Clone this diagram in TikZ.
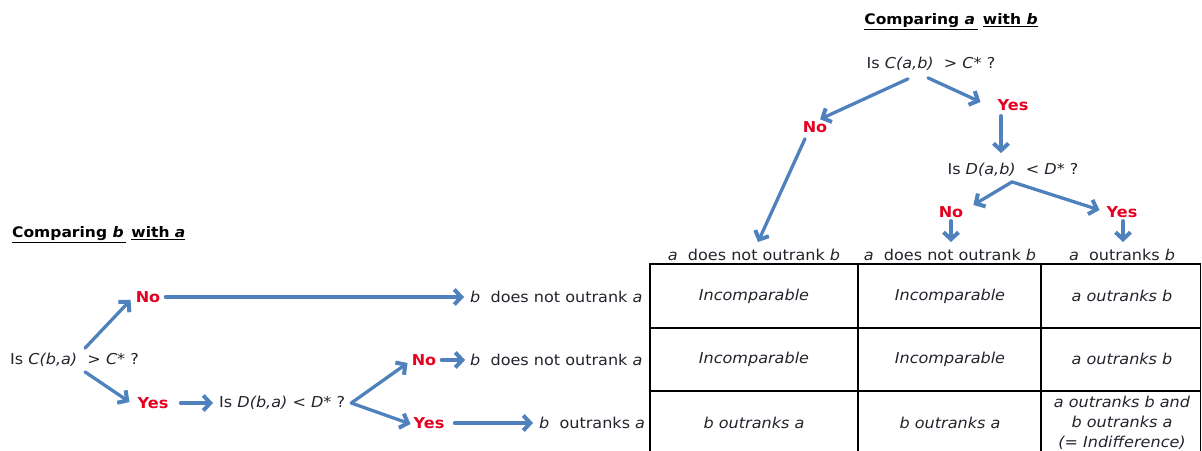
\documentclass[tikz,border=0pt]{standalone}
\usepackage{fontspec}
\setmainfont{DejaVu Sans}[FakeStretch=1.07]
\usetikzlibrary{arrows.meta}
\definecolor{arrowblue}{RGB}{79,129,189}
\definecolor{answerred}{RGB}{228,0,32}
\definecolor{textgray}{RGB}{35,35,45}

\begin{document}
\begin{tikzpicture}[x=1pt,y=-1pt,
  txt/.style={font=\fontsize{15}{20}\selectfont, inner sep=1pt, text=textgray},
  ttl/.style={font=\fontsize{14.5}{20}\selectfont\bfseries, inner sep=1pt, text=black},
  ans/.style={font=\fontsize{15}{20}\selectfont\bfseries, inner sep=1pt, text=answerred},
  cell/.style={font=\fontsize{15}{20}\selectfont\itshape, inner sep=1pt, text=textgray, align=center},
  arr/.style={draw=arrowblue, line width=3.3pt, line cap=round,
    -{Straight Barb[length=7pt,width=15pt,line width=4pt]}},
  grid/.style={draw=black, line width=1.4pt}]
\useasboundingbox (0,0) rectangle (1202,450);
\clip (0,0) rectangle (1202,450);

% ---- comparing a with b (top tree) ----
\node[ttl] (t1) at (951,22) {\underline{Comparing \textit{a}\,}\ \underline{with \textit{b}}};
\node[txt] (q1) at (931,64) {Is \textit{C(a,b)}\ \ > \textit{C*} ?};
\node[ans] (no1) at (815,127) {No};
\node[ans] (yes1) at (1013,105) {Yes};
\node[txt] (q2) at (1013,170) {Is \textit{D(a,b)}\ \ < \textit{D*} ?};
\node[ans] (no2) at (951,212) {No};
\node[ans] (yes2) at (1122,212) {Yes};
\node[txt] (h1) at (754,255) {\textit{a}\ \ does not outrank \textit{b}};
\node[txt] (h2) at (950,255) {\textit{a}\ \ does not outrank \textit{b}};
\node[txt] (h3) at (1122,255) {\textit{a}\ \ outranks \textit{b}};

\coordinate (j1) at ([shift={(-1,4)}]q2.south);

\draw[arr] ([shift={(-23,7)}]q1.south) -- ([shift={(5,-1)}]no1.north);
\draw[arr] ([shift={(-3,6)}]q1.south) -- ([shift={(-16,-3)}]yes1.west);
\draw[arr] ([shift={(-12,4)}]yes1.south) -- ([shift={(-12,-9)}]q2.north);
\draw[arr] (j1) -- ([shift={(9,-7)}]no2.east);
\draw[arr] (j1) -- ([shift={(-6,-2)}]yes2.west);
\draw[arr] ([shift={(0,2)}]no2.south) -- ([shift={(1,-6)}]h2.north);
\draw[arr] ([shift={(1,2)}]yes2.south) -- ([shift={(1,-6)}]h3.north);
\draw[arr] ([shift={(-10,5)}]no1.south) -- ([shift={(4,-6)}]h1.north);

% ---- comparing b with a (left tree) ----
\node[ttl, anchor=west] (t2) at (11,235) {\underline{Comparing \textit{b}\,}\ \underline{with \textit{a}}};
\node[txt, anchor=west] (q3) at (9,360) {Is \textit{C(b,a)}\ \ > \textit{C*} ?};
\node[ans] (no3) at (148,297) {No};
\node[ans] (yes3) at (153,403) {Yes};
\node[txt, anchor=west] (q4) at (218,403) {Is \textit{D(b,a)} < \textit{D*} ?};
\node[ans] (no4) at (424,360) {No};
\node[ans] (yes4) at (429,423) {Yes};
\node[txt, anchor=west] (r1) at (469,297) {\textit{b}\ \ does not outrank \textit{a}};
\node[txt, anchor=west] (r2) at (469,360) {\textit{b}\ \ does not outrank \textit{a}};
\node[txt, anchor=west] (r3) at (538,423) {\textit{b}\ \ outranks \textit{a}};

\coordinate (j2) at ([shift={(5,0)}]q4.east);

\draw[arr] ([shift={(76,-4)}]q3.north west) -- ([shift={(-4,3)}]no3.west);
\draw[arr] ([shift={(76,4)}]q3.south west) -- ([shift={(-7,-1)}]yes3.west);
\draw[arr] ([shift={(11,0)}]yes3.east) -- ([shift={(-5,0)}]q4.west);
\draw[arr] (j2) -- ([shift={(-3,3)}]no4.west);
\draw[arr] (j2) -- ([shift={(-2,1)}]yes4.west);
\draw[arr] ([shift={(4,0)}]no3.east) -- ([shift={(-5,0)}]r1.west);
\draw[arr] ([shift={(4,0)}]no4.east) -- ([shift={(-4,0)}]r2.west);
\draw[arr] ([shift={(9,0)}]yes4.east) -- ([shift={(-5,0)}]r3.west);

% ---- result table ----
\draw[grid] (650,264) -- (1201,264);
\draw[grid] (650,328) -- (1201,328);
\draw[grid] (650,391) -- (1201,391);
\foreach \xx in {650,858,1041,1200.5}
  \draw[grid] (\xx,263.3) -- (\xx,460);

\node[cell] (c11) at (754,296) {Incomparable};
\node[cell] (c12) at (950,296) {Incomparable};
\node[cell] (c13) at (1122,296) {a outranks b};
\node[cell] (c21) at (754,359) {Incomparable};
\node[cell] (c22) at (950,359) {Incomparable};
\node[cell] (c23) at (1122,359) {a outranks b};
\node[cell] (c31) at (754,423) {b outranks a};
\node[cell] (c32) at (950,423) {b outranks a};
\node[cell] (c33) at (1122,423) {a outranks b and\\b outranks a\\(= Indifference)};
\end{tikzpicture}
\end{document}
